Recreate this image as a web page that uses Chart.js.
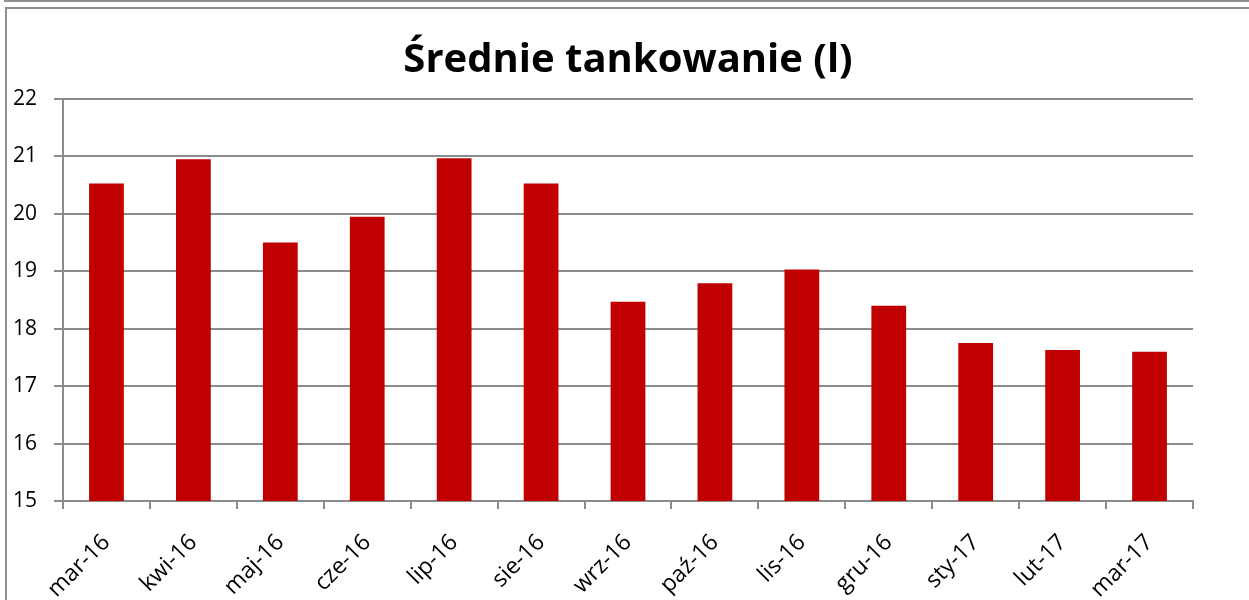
<!DOCTYPE html>
<html>
<head>
<meta charset="utf-8">
<script src="https://cdn.jsdelivr.net/npm/chart.js@4/dist/chart.umd.min.js"></script>
<style>
  html, body { margin: 0; padding: 0; background: #fff; overflow: hidden; }
  .ramka1 { position: absolute; left: 4px; top: -2px; width: 1300px; height: 2px; border-left: 2px solid #8f8f8f; border-bottom: 2px solid #8f8f8f; }
  .ramka2 { position: absolute; left: 5px; top: 7px; width: 1300px; height: 700px; border-left: 2px solid #8f8f8f; border-top: 2px solid #8f8f8f; }
  #wykres { position: absolute; left: 0; top: 0; }
</style>
</head>
<body>
<div class="ramka1"></div>
<div class="ramka2"></div>
<canvas id="wykres" width="1249" height="600"></canvas>
<script>
// dane z wykresu
const miesiace = ['mar-16', 'kwi-16', 'maj-16', 'cze-16', 'lip-16', 'sie-16', 'wrz-16',
                  'paź-16', 'lis-16', 'gru-16', 'sty-17', 'lut-17', 'mar-17'];
const tankowanie = [20.53, 20.95, 19.50, 19.95, 20.97, 20.53, 18.47,
                    18.79, 19.03, 18.40, 17.75, 17.63, 17.60];
const tytul = 'Średnie tankowanie (l)';
const osY = { min: 15, max: 22, krok: 1 };

const szary = '#8c8c8c';
const czcionka = '"Open Sans", Lato, sans-serif';

const ctx = document.getElementById('wykres').getContext('2d');

new Chart(ctx, {
    type: 'bar',
    data: {
        labels: miesiace,
        datasets: [{
            label: tytul,
            data: tankowanie,
            backgroundColor: '#C00000',
            borderWidth: 0,
            barPercentage: 0.4,
            categoryPercentage: 1.0
        }]
    },
    options: {
        responsive: false,
        animation: false,
        layout: { padding: { left: 6, right: 56, top: 0, bottom: 0 } },
        plugins: {
            legend: { display: false },
            tooltip: { enabled: false },
            title: {
                display: true,
                text: tytul,
                fullSize: false,
                color: '#000',
                font: { family: czcionka, size: 40, weight: 'bold', lineHeight: 1.2 },
                padding: { top: 37, bottom: 14 }
            }
        },
        scales: {
            x: {
                offset: true,
                grid: {
                    offset: true,
                    drawOnChartArea: false,
                    drawTicks: true,
                    tickLength: 8,
                    color: szary,
                    lineWidth: 2
                },
                border: { display: true, color: szary, width: 2 },
                ticks: {
                    color: '#000',
                    font: { family: czcionka, size: 23 },
                    minRotation: 45,
                    maxRotation: 45,
                    padding: 20,
                    autoSkip: false
                },
                afterFit: s => { s.height = 99; }
            },
            y: {
                min: osY.min,
                max: osY.max,
                grid: {
                    color: szary,
                    lineWidth: 2,
                    drawTicks: true,
                    tickLength: 9
                },
                border: { display: true, color: szary, width: 2 },
                ticks: {
                    stepSize: osY.krok,
                    color: '#000',
                    font: { family: czcionka, size: 21 },
                    padding: 17
                },
                afterFit: s => { s.width = 57; }
            }
        }
    }
});
</script>
</body>
</html>
